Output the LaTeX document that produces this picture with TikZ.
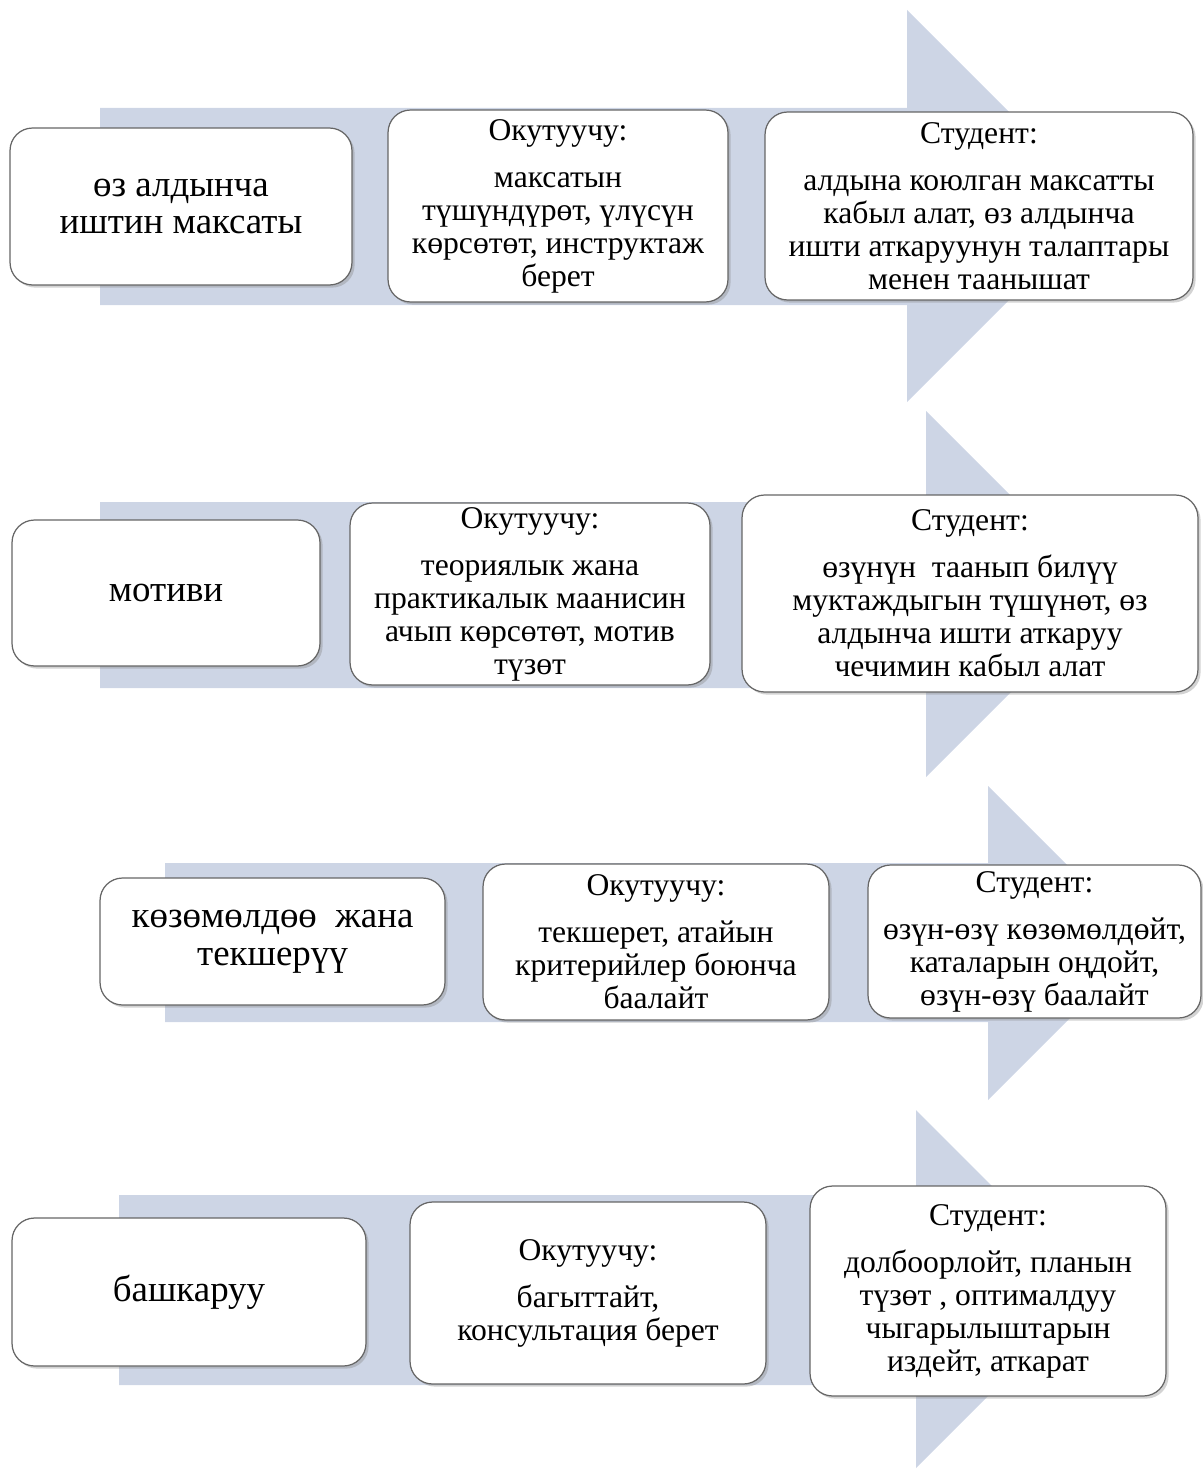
\documentclass[tikz,border=0pt]{standalone}
\usepackage{fontspec}
\setmainfont{Liberation Serif}
\usetikzlibrary{shadows}
\definecolor{bandblue}{RGB}{205,213,229}
\begin{document}
\begin{tikzpicture}[x=0.02cm, y=-0.02cm,
	band/.style = {fill=bandblue},
	main/.style = {draw=black!60, line width=0.7pt, fill=white, rounded corners=0.45cm, align=center, inner sep=2pt,
		drop shadow={shadow xshift=1.5pt, shadow yshift=-1.5pt, opacity=0.35},
		font=\fontsize{18pt}{18.8pt}\selectfont},
	lead/.style = {main, font=\fontsize{21pt}{21.6pt}\selectfont}]
	\path[use as bounding box] (0,0) rectangle (1203,1470);
	% arrows
	\fill[band] (100,108) -- (907,108) -- (907,10) -- (1103,206) -- (907,402) -- (907,305) -- (100,305) -- cycle;
	\fill[band] (100,502) -- (926,502) -- (926,411) -- (1109,594) -- (926,777) -- (926,688) -- (100,688) -- cycle;
	\fill[band] (165,863) -- (988,863) -- (988,786) -- (1145,943) -- (988,1100) -- (988,1022) -- (165,1022) -- cycle;
	\fill[band] (119,1195) -- (916,1195) -- (916,1110) -- (1095,1289) -- (916,1468) -- (916,1385) -- (119,1385) -- cycle;
	% row 1
	\node[lead, minimum width=6.84cm, minimum height=3.14cm] (A1) at (181,206.5) {өз алдынча\\иштин максаты};
	\node[main, minimum width=6.80cm, minimum height=3.84cm] (B1) at (558,206) {Окутуучу:\\[8pt]максатын\\түшүндүрөт, үлүсүн\\көрсөтөт, инструктаж\\берет};
	\node[main, minimum width=8.56cm, minimum height=3.76cm] (C1) at (979,206) {Студент:\\[8pt]алдына коюлган максатты\\кабыл алат, өз алдынча\\ишти аткаруунун талаптары\\менен таанышат};
	% row 2
	\node[lead, minimum width=6.16cm, minimum height=2.92cm] (A2) at (166,593) {мотиви};
	\node[main, minimum width=7.20cm, minimum height=3.64cm] (B2) at (530,594) {Окутуучу:\\[8pt]теориялык жана\\практикалык маанисин\\ачып көрсөтөт, мотив\\түзөт};
	\node[main, minimum width=9.12cm, minimum height=3.94cm] (C2) at (970,593.5) {Студент:\\[8pt]өзүнүн~~таанып билүү\\муктаждыгын түшүнөт, өз\\алдынча ишти аткаруу\\чечимин кабыл алат};
	% row 3
	\node[lead, minimum width=6.90cm, minimum height=2.54cm] (A3) at (272.5,941.5) {көзөмөлдөө~~жана\\текшерүү};
	\node[main, minimum width=6.92cm, minimum height=3.12cm] (B3) at (656,942) {Окутуучу:\\[8pt]текшерет, атайын\\критерийлер боюнча\\баалайт};
	\node[main, minimum width=6.66cm, minimum height=3.06cm] (C3) at (1034.5,941.5) {Студент:\\[8pt]өзүн-өзү көзөмөлдөйт,\\каталарын оңдойт,\\өзүн-өзү баалайт};
	% row 4
	\node[lead, minimum width=7.08cm, minimum height=2.96cm] (A4) at (189,1292) {башкаруу};
	\node[main, minimum width=7.12cm, minimum height=3.64cm] (B4) at (588,1293) {Окутуучу:\\[8pt]багыттайт,\\консультация берет};
	\node[main, minimum width=7.12cm, minimum height=4.20cm] (C4) at (988,1291) {Студент:\\[8pt]долбоорлойт, планын\\түзөт , оптималдуу\\чыгарылыштарын\\издейт, аткарат};
\end{tikzpicture}
\end{document}
